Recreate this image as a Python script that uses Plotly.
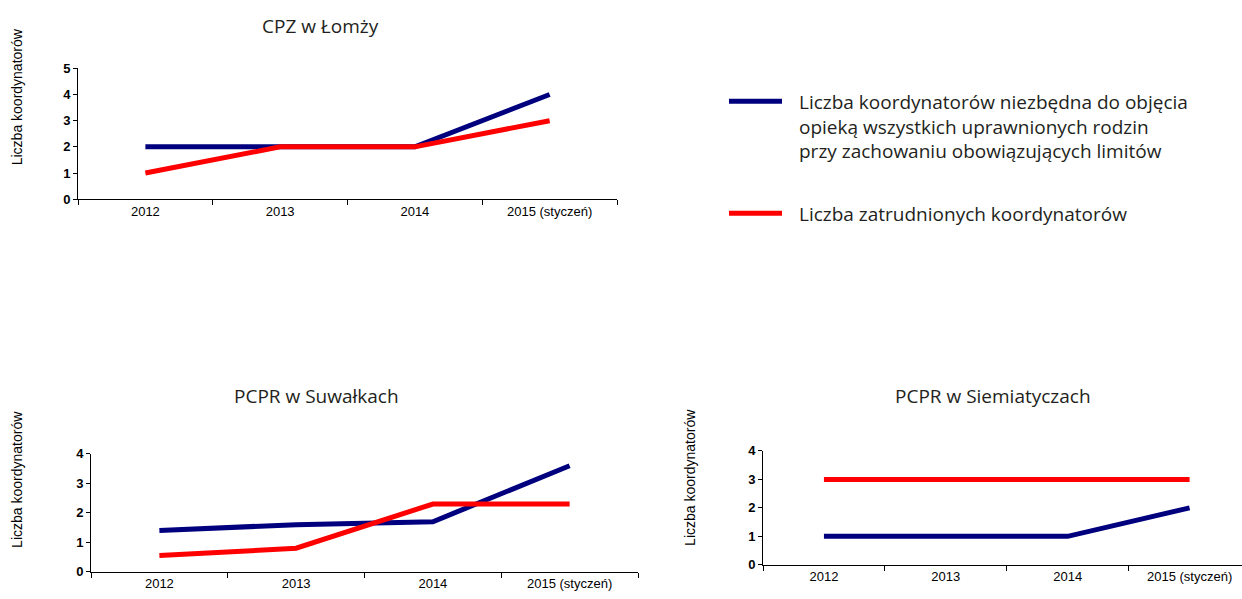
import plotly.graph_objects as go

categories = ["2012", "2013", "2014", "2015 (styczeń)"]
series_names = [
    "Liczba koordynatorów niezbędna do objęcia<br>opieką wszystkich uprawnionych rodzin<br>przy zachowaniu obowiązujących limitów",
    "Liczba zatrudnionych koordynatorów",
]
titles = ["CPZ w Łomży", "PCPR w Suwałkach", "PCPR w Siemiatyczach"]
y_title = "Liczba koordynatorów"

lomza_needed = [2, 2, 2, 4]
lomza_employed = [1, 2, 2, 3]
suwalki_needed = [1.4, 1.6, 1.7, 3.6]
suwalki_employed = [0.55, 0.8, 2.3, 2.3]
siemiatycze_needed = [1, 1, 1, 2]
siemiatycze_employed = [3, 3, 3, 3]

BLUE = "#00007f"
RED = "#ff0000"
W, H = 1242, 599

def px_x(p):
    return p / W

def px_y(p):
    # empirical correction for the vertical placement seen in the rendered output
    q = (p - 6.6) / 0.976
    return 1 - q / H

fig = go.Figure()

panels = [
    (lomza_needed, lomza_employed, "", (78, 617), (199, 68), [0, 5], [-0.5, 3.5]),
    (suwalki_needed, suwalki_employed, "2", (91, 638), (572, 454), [0, 4], [-0.5, 3.5]),
    (siemiatycze_needed, siemiatycze_employed, "3", (763, 1242), (565, 451), [0, 4], [-0.5, 3.43]),
]

NARROW = "Liberation Sans Narrow, Arial Narrow, sans-serif"
tick_font = dict(family=NARROW, size=13, color="#000000")

for needed, employed, sfx, xd, yd, yr, xr in panels:
    xa = "x" + sfx
    ya = "y" + sfx
    fig.add_trace(go.Scatter(x=categories, y=needed, mode="lines", xaxis=xa, yaxis=ya,
                             line=dict(color=BLUE, width=5), showlegend=False,
                             name=series_names[0].replace("<br>", " ")))
    fig.add_trace(go.Scatter(x=categories, y=employed, mode="lines", xaxis=xa, yaxis=ya,
                             line=dict(color=RED, width=5), showlegend=False,
                             name=series_names[1]))
    fig.update_layout(**{
        "xaxis" + sfx: dict(domain=[px_x(xd[0]), min(px_x(xd[1]), 1.0)], anchor=ya, type="category",
                            range=xr, tickson="boundaries", ticks="outside", ticklen=5, tickcolor="#000",
                            showline=True, linecolor="#000", linewidth=1, showgrid=False, zeroline=False,
                            tickfont=tick_font, fixedrange=True),
        "yaxis" + sfx: dict(domain=[max(px_y(yd[0]), 0.0), px_y(yd[1])], anchor=xa, range=yr, dtick=1,
                            ticks="outside", ticklen=4, tickcolor="#000", showline=True, linecolor="#000",
                            linewidth=1, showgrid=False, zeroline=False,
                            tickfont=dict(family=NARROW, size=13, color="#000000", weight="bold"),
                            fixedrange=True),
    })

annotations = []
title_pos = [(320, 26), (316, 396), (993, 396)]
for t, (cx, cy) in zip(titles, title_pos):
    annotations.append(dict(text=t, x=px_x(cx), y=px_y(cy), xref="paper", yref="paper",
                            showarrow=False, xanchor="center", yanchor="middle",
                            font=dict(family="Open Sans, sans-serif", size=19, color="#231f20")))

ytitle_pos = [(17, 97), (17, 480), (690, 478)]
for (cx, cy) in ytitle_pos:
    annotations.append(dict(text=y_title, x=px_x(cx), y=px_y(cy), xref="paper", yref="paper",
                            showarrow=False, textangle=-90, xanchor="center", yanchor="middle",
                            font=dict(family=NARROW, size=14, color="#000")))

legend_rows = [(101, BLUE, series_names[0]), (213, RED, series_names[1])]
shapes = []
for ly, col, txt in legend_rows:
    shapes.append(dict(type="line", xref="paper", yref="paper", x0=px_x(729), x1=px_x(782),
                       y0=px_y(ly), y1=px_y(ly), line=dict(color=col, width=5)))
    annotations.append(dict(text=txt, x=px_x(797), y=px_y(ly - 14), xref="paper", yref="paper",
                            showarrow=False, xanchor="left", yanchor="top", align="left",
                            font=dict(family="Open Sans, sans-serif", size=19, color="#231f20")))

fig.update_layout(width=W, height=H, margin=dict(l=0, r=0, t=0, b=0),
                  paper_bgcolor="white", plot_bgcolor="white",
                  annotations=annotations, shapes=shapes, showlegend=False)

post = (
    "document.documentElement.style.margin='0';"
    "document.documentElement.style.overflow='hidden';"
    "document.body.style.margin='0';"
    "document.body.style.overflow='hidden';"
    "var gd=document.getElementById('{plot_id}');"
    "gd.style.position='fixed';gd.style.top='0px';gd.style.left='0px';"
)

fig.write_html("out.html", config={"displayModeBar": False}, post_script=post)
